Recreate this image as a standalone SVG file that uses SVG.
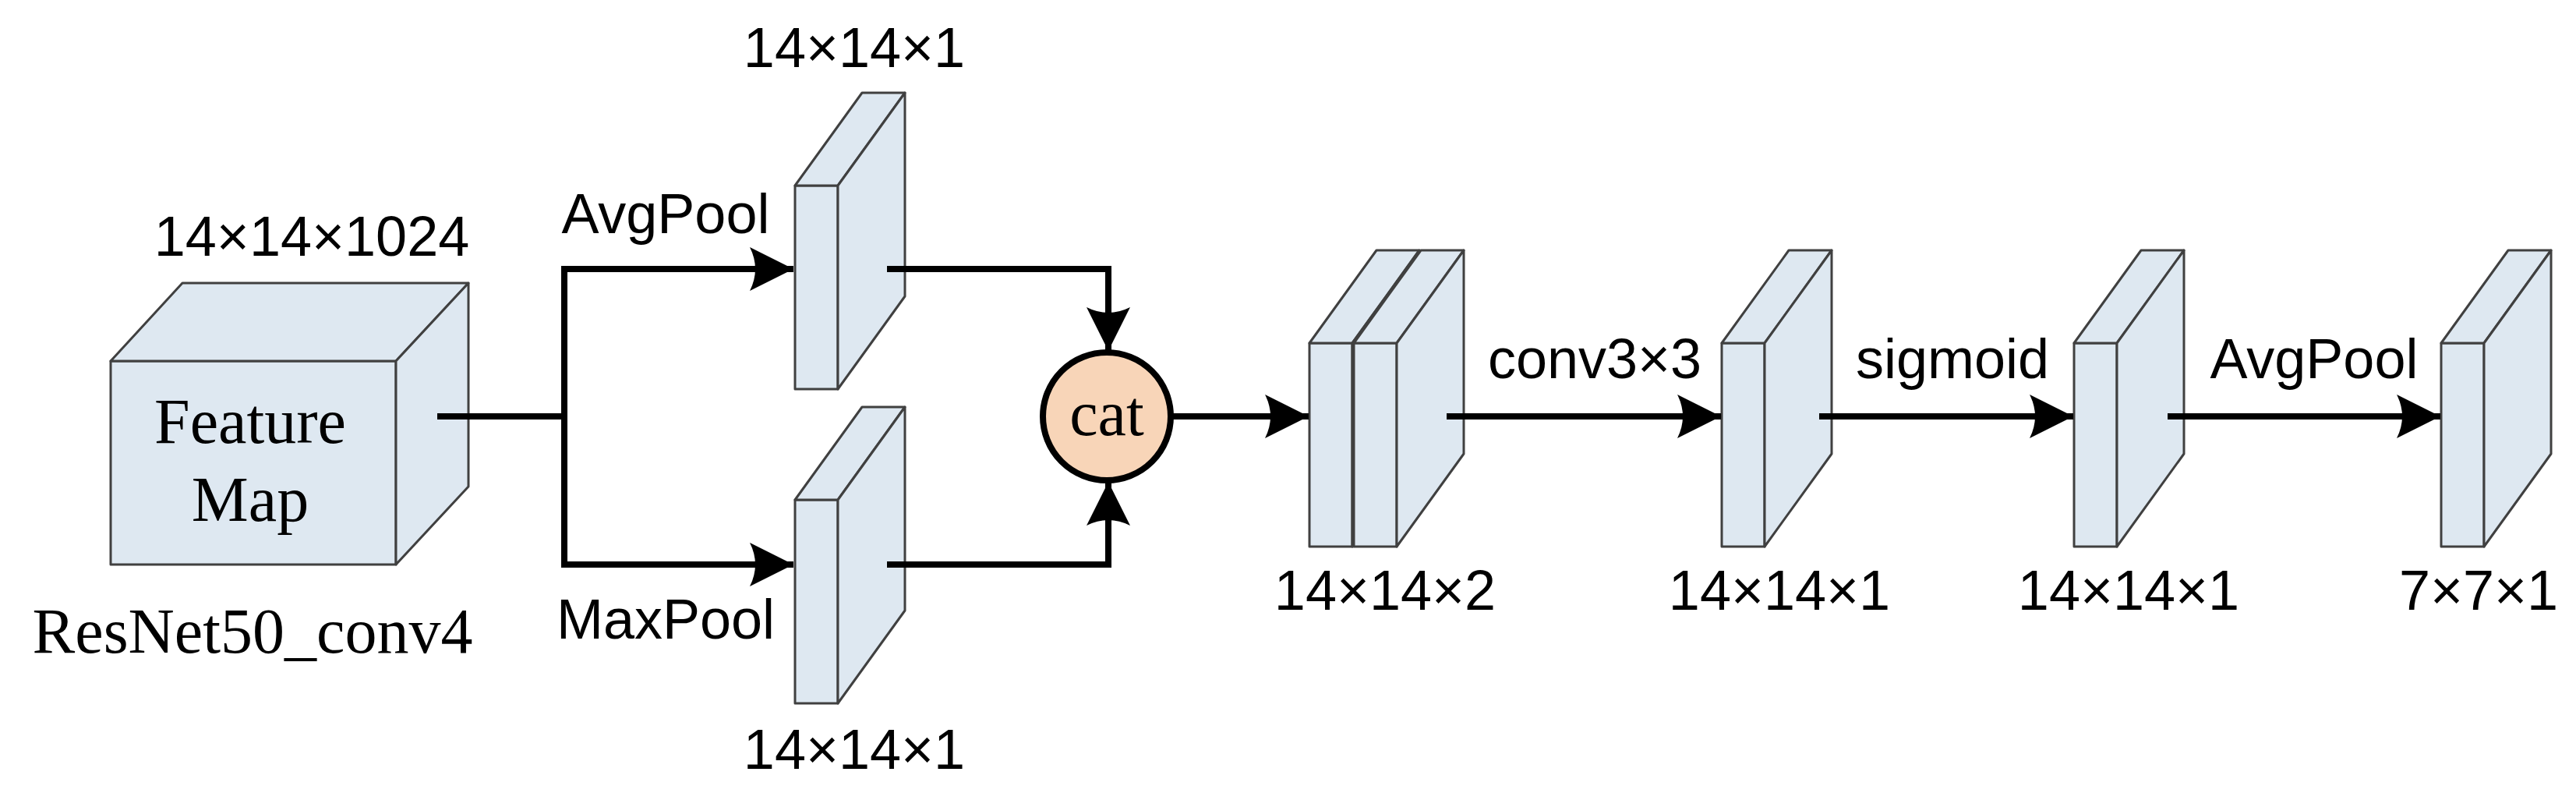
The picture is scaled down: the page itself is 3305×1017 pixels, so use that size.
<svg xmlns="http://www.w3.org/2000/svg" xmlns:xlink="http://www.w3.org/1999/xlink" width="3305" height="1017" viewBox="0 0 3305 1017">
<style>
.box{fill:#dee8f1;stroke:#404040;stroke-width:3;stroke-linejoin:round}
.ln{fill:none;stroke:#000;stroke-width:8}
.arr{marker-end:url(#ah)}
.s{font-family:"Liberation Sans",Arial,sans-serif;font-size:72px;text-anchor:middle;fill:#000}
.r{font-family:"Liberation Serif","Times New Roman",serif;font-size:82px;text-anchor:middle;fill:#000}
</style>
<defs>
<marker id="ah" markerUnits="userSpaceOnUse" markerWidth="60" markerHeight="60" refX="56" refY="28" orient="auto" overflow="visible">
<path d="M0,0 L56,28 L0,56 Q14,28 0,0 Z" fill="#000"/>
</marker>
<g id="slab">
<rect class="box" x="0" y="0" width="55" height="261"/>
<polygon class="box" points="0,0 86,-119 141,-119 55,0"/>
<polygon class="box" points="55,0 141,-119 141,142 55,261"/>
</g>
</defs>
<g id="featuremap">
<rect class="box" x="142" y="463" width="366" height="261"/>
<polygon class="box" points="142,463 234,363 601,363 508,463"/>
<polygon class="box" points="508,463 601,363 601,624 508,724"/>
<text class="r" x="321" y="568">Feature</text>
<text class="r" x="321" y="668">Map</text>
<text class="s" x="400" y="328">14×14×1024</text>
<text class="r" x="324" y="837">ResNet50_conv4</text>
</g>
<g id="avgslab"><use xlink:href="#slab" x="1020" y="238"/><text class="s" x="1096" y="86">14×14×1</text></g>
<g id="maxslab"><use xlink:href="#slab" x="1020" y="641"/><text class="s" x="1096" y="986">14×14×1</text></g>
<g id="cat"><circle cx="1420" cy="534" r="82" fill="#f8d5b8" stroke="#000" stroke-width="8"/><text class="r" x="1420" y="558">cat</text></g>
<g id="double"><use xlink:href="#slab" x="1680" y="440"/><use xlink:href="#slab" x="1737" y="440"/><text class="s" x="1777" y="782">14×14×2</text></g>
<g id="conv"><use xlink:href="#slab" x="2209" y="440"/><text class="s" x="2283" y="782">14×14×1</text></g>
<g id="sig"><use xlink:href="#slab" x="2661" y="440"/><text class="s" x="2731" y="782">14×14×1</text></g>
<g id="out"><use xlink:href="#slab" x="3132" y="440"/><text class="s" x="3180" y="782">7×7×1</text></g>
<g id="connectors">
<polyline class="ln" points="561,534 724,534"/>
<polyline class="ln arr" points="724,534 724,345 1018,345"/>
<polyline class="ln arr" points="724,534 724,724 1018,724"/>
<polyline class="ln arr" points="1138,345 1422,345 1422,450"/>
<polyline class="ln arr" points="1138,724 1422,724 1422,618"/>
<polyline class="ln arr" points="1504,534 1679,534"/>
<polyline class="ln arr" points="1856,534 2208,534"/>
<polyline class="ln arr" points="2334,534 2660,534"/>
<polyline class="ln arr" points="2781,534 3131,534"/>
<text class="s" x="854" y="299">AvgPool</text>
<text class="s" x="854" y="819">MaxPool</text>
<text class="s" x="2046" y="485">conv3×3</text>
<text class="s" x="2505" y="485">sigmoid</text>
<text class="s" x="2969" y="485">AvgPool</text>
</g>
</svg>
